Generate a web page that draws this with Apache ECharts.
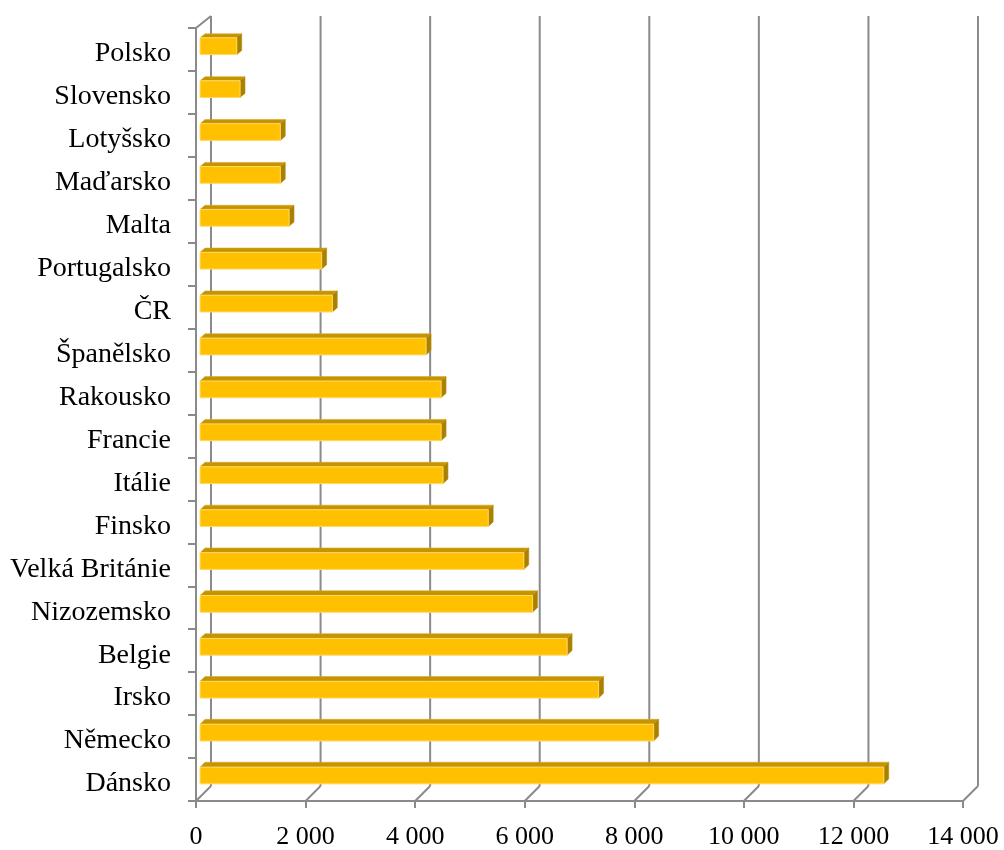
<!DOCTYPE html>
<html>
<head>
<meta charset="utf-8">
<script src="https://cdn.jsdelivr.net/npm/echarts@6/dist/echarts.min.js"></script>
<style>
  html, body { margin: 0; padding: 0; background: #fff; }
  #chart { width: 1004px; height: 850px; }
</style>
</head>
<body>
<div id="chart"></div>
<script>
// Countries, top to bottom
const categories = ['Polsko', 'Slovensko', 'Lotyšsko', 'Maďarsko', 'Malta', 'Portugalsko', 'ČR',
  'Španělsko', 'Rakousko', 'Francie', 'Itálie', 'Finsko', 'Velká Británie', 'Nizozemsko',
  'Belgie', 'Irsko', 'Německo', 'Dánsko'];
const values = [670, 730, 1465, 1465, 1625, 2220, 2415, 4125, 4400, 4400, 4435, 5260, 5910, 6070,
  6700, 7275, 8280, 12480];
const xTicks = [0, 2000, 4000, 6000, 8000, 10000, 12000, 14000];

// Depth of the pseudo-3D box (offset of the back wall from the front plane)
const DX = 15;
function depthY(y, top, bottom) {
  // slightly steeper at the floor than at the ceiling
  const t = (y - top) / (bottom - top);
  return -12 - 3 * t;
}
const GRID_COLOR = '#8a8a8a';
const FONT = '"Liberation Serif", "Times New Roman", serif';

const chart = echarts.init(document.getElementById('chart'), null, { renderer: 'canvas' });

const option = {
  animation: false,
  backgroundColor: '#ffffff',
  grid: { left: 196, right: 41, top: 28, bottom: 45, containLabel: false },
  xAxis: {
    type: 'value', min: 0, max: 14000, interval: 2000,
    axisLine: { show: true, lineStyle: { color: GRID_COLOR, width: 2 } },
    axisTick: { show: true, length: 7, lineStyle: { color: GRID_COLOR, width: 2 } },
    splitLine: { show: false },
    axisLabel: {
      margin: 23, color: '#000', fontFamily: FONT, fontSize: 26,
      formatter: v => String(v).replace(/\B(?=(\d{3})+(?!\d))/g, ' ')
    }
  },
  yAxis: {
    type: 'category', data: categories, inverse: true,
    axisLine: { show: true, lineStyle: { color: GRID_COLOR, width: 2 } },
    axisTick: { show: true, length: 8, lineStyle: { color: GRID_COLOR, width: 2 } },
    axisLabel: {
      margin: 25, color: '#000', fontFamily: FONT, fontSize: 28,
      formatter: v => '{c|' + v + '}',
      rich: { c: { fontFamily: FONT, fontSize: 28, color: '#000', padding: [9, 0, 0, 0] } }
    }
  },
  series: [
    {
      // back wall vertical lines + floor diagonals, one per value tick
      type: 'custom',
      z: 1,
      data: xTicks.map(v => [v, 0]),
      renderItem: function (params, api) {
        const cs = params.coordSys;
        const top = cs.y, bottom = cs.y + cs.height;
        const x = api.coord([api.value(0), 0])[0];
        const dyB = depthY(bottom, top, bottom);
        const dyT = depthY(top, top, bottom);
        const children = [
          { type: 'line', shape: { x1: x + DX, y1: top + dyT, x2: x + DX, y2: bottom + dyB },
            style: { stroke: GRID_COLOR, lineWidth: 2 } },
          { type: 'line', shape: { x1: x, y1: bottom, x2: x + DX, y2: bottom + dyB },
            style: { stroke: GRID_COLOR, lineWidth: 2 } }
        ];
        if (api.value(0) === 0) {
          children.push({ type: 'line', shape: { x1: x, y1: top, x2: x + DX, y2: top + dyT },
            style: { stroke: GRID_COLOR, lineWidth: 2 } });
        }
        return { type: 'group', children: children };
      }
    },
    {
      // 3D bars: front face, top face, right face
      type: 'custom',
      z: 3,
      data: values.map((v, i) => [v, i]),
      renderItem: function (params, api) {
        const cs = params.coordSys;
        const top = cs.y, bottom = cs.y + cs.height;
        const v = api.value(0), c = api.value(1);
        const p1 = api.coord([v, c]);
        const p0 = api.coord([0, c]);
        const band = api.size([0, 1])[1];
        const dy = depthY(p1[1], top, bottom);
        const f0 = 0.27, f1 = 0.6;
        const half = band * 0.195;
        const x0 = p0[0] + DX * f0, x1 = p1[0] + DX * f0;
        const yc = p1[1] + dy * f0;
        const yt = yc - half, yb = yc + half;
        const bx = DX * (f1 - f0), by = dy * (f1 - f0);
        return {
          type: 'group',
          children: [
            { type: 'polygon',
              shape: { points: [[x0, yt], [x1, yt], [x1 + bx, yt + by], [x0 + bx, yt + by]] },
              style: { fill: '#c69400', stroke: '#d9a82a', lineWidth: 0.6 } },
            { type: 'polygon',
              shape: { points: [[x1, yt], [x1 + bx, yt + by], [x1 + bx, yb + by], [x1, yb]] },
              style: { fill: '#a98000', stroke: '#b88e10', lineWidth: 0.6 } },
            { type: 'rect',
              shape: { x: x0, y: yt, width: x1 - x0, height: yb - yt },
              style: { fill: '#ffc000', stroke: '#ffd966', lineWidth: 1 } }
          ]
        };
      }
    }
  ]
};

chart.setOption(option);
</script>
</body>
</html>
